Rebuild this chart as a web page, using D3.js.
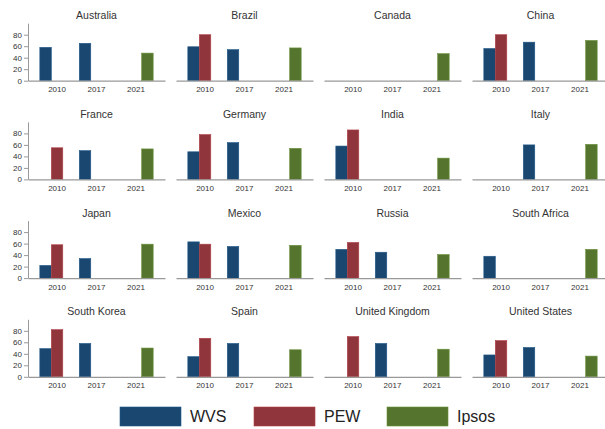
<!DOCTYPE html>
<html>
<head>
<meta charset="utf-8">
<style>
  body { margin: 0; background: #fff; }
  text { font-family: "Liberation Sans", Arial, sans-serif; }
</style>
</head>
<body>
<svg id="chart" width="605" height="429"></svg>
<script src="https://cdn.jsdelivr.net/npm/d3@7"></script>
<script>

var countries = ["Australia", "Brazil", "Canada", "China",
                 "France", "Germany", "India", "Italy",
                 "Japan", "Mexico", "Russia", "South Africa",
                 "South Korea", "Spain", "United Kingdom", "United States"]
var years = ["2010", "2017", "2021"]
var series = ["WVS", "PEW", "Ipsos"]
var colors = ["#1a476f", "#90353b", "#55752f"]
var yTicks = [0, 20, 40, 60, 80]

// values per country, in order 2010, 2017, 2021 (null = no survey)
var wvs = [[58, 65, null], [59, 54, null], [null, null, null], [56, 67, null],
           [null, 50, null], [48, 64, null], [58, null, null], [null, 60, null],
           [22, 34, null], [63, 55, null], [50, 45, null], [38, null, null],
           [49, 58, null], [35, 58, null], [null, 58, null], [38, 51, null]]
var pew = [[null, null, null], [80, null, null], [null, null, null], [80, null, null],
           [55, null, null], [78, null, null], [86, null, null], [null, null, null],
           [58, null, null], [59, null, null], [62, null, null], [null, null, null],
           [82, null, null], [67, null, null], [70, null, null], [63, null, null]]
var ipsos = [[null, null, 48], [null, null, 57], [null, null, 47], [null, null, 70],
             [null, null, 53], [null, null, 54], [null, null, 37], [null, null, 61],
             [null, null, 59], [null, null, 57], [null, null, 41], [null, null, 50],
             [null, null, 50], [null, null, 47], [null, null, 48], [null, null, 36]]

var allSeries = [wvs, pew, ipsos]

var svg = d3.select("#chart")

var plotW = 137, plotH = 57.5
var colStep = 148, rowStep = 98.7
var left0 = 28, base0 = 80.7

var x = d3.scaleBand().domain(years).range([0, plotW])
          .paddingInner(0.127).paddingOuter(0.3)
var xs = d3.scaleBand().domain(series).range([0, x.bandwidth()])
var y = d3.scaleLinear().domain([0, 100]).range([plotH, 0])

countries.forEach(function(c, i){
  var col = i % 4, row = Math.floor(i / 4)
  var g = svg.append("g")
      .attr("transform", "translate(" + (left0 + col*colStep) + "," + (base0 + row*rowStep - plotH) + ")")

  g.append("text")
   .attr("x", plotW/2).attr("y", -4)
   .attr("text-anchor", "middle")
   .attr("font-size", "10.5px")
   .attr("fill", "#333")
   .text(c)

  var bars = []
  allSeries.forEach(function(s, k){
    years.forEach(function(yr, j){
      var v = s[i][j]
      if (v != null) bars.push({year: yr, series: series[k], k: k, v: v})
    })
  })

  g.selectAll(".bar").data(bars).enter().append("rect")
   .attr("class", "bar")
   .attr("x", function(d){ return x(d.year) + xs(d.series) })
   .attr("width", xs.bandwidth())
   .attr("y", function(d){ return y(d.v) })
   .attr("height", function(d){ return y(0) - y(d.v) })
   .attr("fill", function(d){ return colors[d.k] })
   .attr("stroke", function(d){ return d3.color(colors[d.k]).brighter(0.6) })
   .attr("stroke-width", 0.6)

  var xa = g.append("g")
   .attr("transform", "translate(0," + plotH + ")")
   .call(d3.axisBottom(x).tickSize(0).tickPadding(6))
  xa.select(".domain").attr("stroke", "#999").attr("stroke-width", 1.2)
  xa.selectAll("text").attr("font-size", "8px").attr("fill", "#333")
    .style("font-family", "'Liberation Sans', Arial, sans-serif")

  if (col == 0) {
    var ya = g.append("g")
     .call(d3.axisLeft(y).tickValues(yTicks).tickSize(4).tickPadding(2).tickSizeOuter(0))
    ya.select(".domain").attr("stroke", "#999")
    ya.selectAll(".tick line").attr("stroke", "#999")
    ya.selectAll("text").attr("font-size", "8px").attr("fill", "#333")
      .style("font-family", "'Liberation Sans', Arial, sans-serif")
  }
})

// legend
var legX = [120, 254, 387]
var leg = svg.append("g")
series.forEach(function(s, k){
  leg.append("rect")
     .attr("x", legX[k]).attr("y", 407)
     .attr("width", 61).attr("height", 19)
     .attr("fill", colors[k])
     .attr("stroke", d3.color(colors[k]).brighter(0.6))
     .attr("stroke-width", 0.6)
  leg.append("text")
     .attr("x", legX[k] + 70).attr("y", 422)
     .attr("font-size", "16px")
     .attr("fill", "#222")
     .text(s)
})

</script>
</body>
</html>
